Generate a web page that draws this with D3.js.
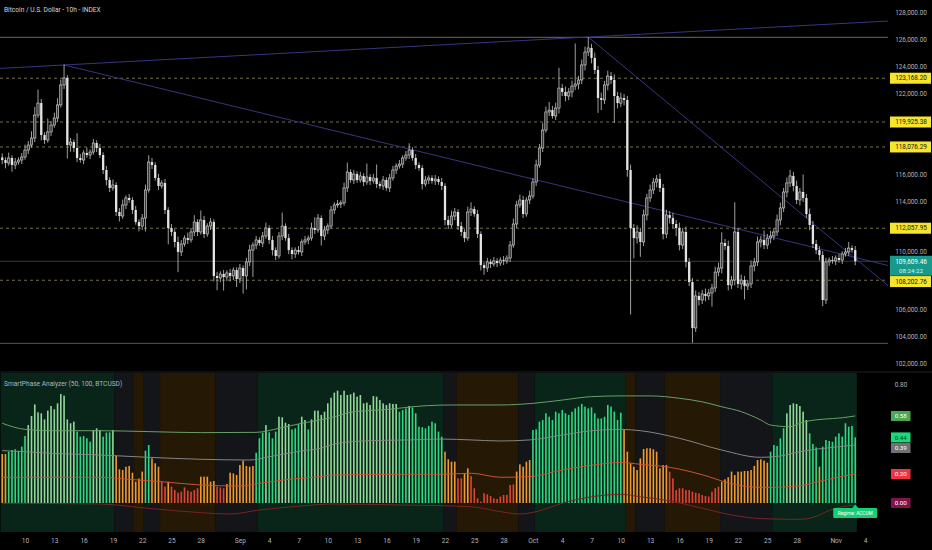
<!DOCTYPE html>
<html><head><meta charset="utf-8">
<script src="https://cdn.jsdelivr.net/npm/d3@7"></script>
<style>body{margin:0;background:#000;overflow:hidden}svg{display:block}</style>
</head><body><svg id="c" width="932" height="550"></svg>
<script>
// ---------- DATA ----------
const title = "Bitcoin / U.S. Dollar - 10h - INDEX";
const indicatorName = "SmartPhase Analyzer (50, 100, BTCUSD)";
const barStartUTC = Date.UTC(2025, 7, 7, 16);   // first bar
const barHours = 8;
const firstOpenK = 117.30;
// close prices (thousands USD)
const closeK = [
117.11,116.89,117.26,116.74,116.96,117.11,117.33,117.85,118.22,118.74,
120.44,121.33,118.96,118.59,119.19,119.70,120.22,121.19,122.67,123.19,
118.22,118.44,118.00,117.26,117.11,117.63,117.48,117.70,118.37,118.00,
117.48,116.37,115.63,115.04,115.26,113.26,112.96,113.78,114.30,114.15,
113.41,112.52,112.22,112.81,114.89,116.96,116.74,115.78,115.19,115.41,
113.41,112.07,111.78,111.04,110.30,110.89,111.33,111.19,111.78,112.52,
111.78,112.67,111.63,112.22,112.52,108.52,108.37,108.67,108.44,108.74,
108.52,108.96,108.30,109.11,108.52,109.56,110.44,110.81,111.19,110.96,
111.48,112.07,111.19,110.44,110.00,111.48,112.22,111.33,110.44,110.15,
110.44,110.30,111.04,111.19,111.33,112.07,111.93,112.81,111.48,111.93,
112.22,113.41,113.78,113.85,113.93,115.04,116.22,115.63,116.07,115.63,
115.93,115.48,115.85,115.56,115.78,115.33,115.19,115.63,115.04,115.78,
116.37,116.67,116.81,117.26,117.48,117.85,117.26,116.74,116.52,115.33,
115.63,115.78,115.56,115.70,115.48,115.19,112.67,112.30,112.96,113.26,
112.22,111.78,111.33,113.26,113.48,113.11,111.63,109.33,109.11,109.56,
109.41,109.63,109.48,109.70,109.63,109.85,110.81,112.37,113.78,114.15,
113.11,114.15,114.44,115.48,116.74,118.00,119.33,120.67,120.81,120.37,
120.96,122.44,122.15,121.85,122.15,122.59,122.74,123.04,124.15,125.11,
125.41,124.67,123.78,121.70,121.56,122.67,123.33,123.04,121.85,121.33,
121.70,121.56,116.37,112.07,111.33,111.78,111.04,113.04,114.30,114.89,
115.48,115.70,115.04,111.63,113.04,112.81,112.37,112.07,110.81,111.78,
109.56,108.07,104.67,107.04,106.74,107.19,107.04,107.26,107.63,108.81,
109.11,110.96,110.74,107.85,108.22,111.78,107.93,108.22,107.78,107.93,
109.26,109.56,111.04,111.19,110.81,111.33,111.48,111.78,112.67,113.56,
114.74,115.41,115.93,115.19,114.15,114.74,114.30,113.11,112.30,110.89,
110.44,110.07,106.74,109.56,109.70,109.63,109.85,109.70,110.15,110.30,110.59,110.44,109.61];
// upper wick above body (thousands)
const upperWickK = [
.3,.2,.4,.2,.3,.2,.3,.4,.3,.5, .6,1.0,.3,.2,1.0,.3,.4,.5,.4,1.0,
.2,.3,.2,1.1,.3,.2,.4,.2,.3,.2, .3,.2,.3,.2,.4,.2,.3,.4,.2,.3,
.2,.3,.2,.3,.4,.5,.3,.2,.3,.2, .3,.2,.3,.2,.4,.3,.2,.4,.3,.5,
.2,.7,.3,.2,.3,.2,.3,.2,.3,.2, .3,.2,.2,.3,.2,.3,.4,.2,.3,.2,
.3,.4,.2,.3,.2,.3,1.0,.2,.3,.2, .2,.3,.2,.3,.2,.4,.8,.3,.2,.3,
.2,.3,.2,.3,.2,.4,.7,.2,.3,.2, .3,.2,1.0,.2,.3,1.0,.2,.3,.2,.3,
.3,.2,.3,.2,.3,.5,.2,.3,.2,.2, .3,.2,.2,.3,.2,.3,.2,.3,.4,.3,
.2,.3,.2,.4,.5,.2,.3,.2,.2,.3, .2,.3,.2,.2,.3,.2,.3,.4,.3,.4,
.3,.2,.4,.3,.4,.3,.5,.4,.6,.3, .4,1.5,.3,.4,.3,.4,3.0,.3,.4,.4,
.8,.3,.4,.3,.4,.3,.4,.3,.4,.3, .4,.3,.3,.4,.3,.5,.3,.4,.3,.4,
.3,.3,.4,.3,.4,.3,.4,.3,.4,.3, .4,.3,.3,.4,.3,.3,.4,.3,.3,.4,
.4,.8,.3,.4,.3,2.2,.3,.4,.3,.3, .4,.3,.4,.3,.7,.3,.4,.3,.4,.4,
.3,.4,.45,.3,.4,.3,1.3,.3,.4,.3, .3,.3,.3,.3,.2,.3,.2,.3,.2,.3,.45,.2,.3];
// lower wick below body (thousands)
const lowerWickK = [
.3,.4,.2,.5,.3,.2,.3,.2,.3,.2, .3,.2,.4,.3,.2,.3,.2,.3,.2,.3,
1.0,.5,.3,.3,.2,.3,.2,.3,.2,.3, .2,.3,.4,.3,.2,.3,.4,.2,.3,.2,
.3,.2,.4,.3,1.0,.2,.3,.2,.3,.2, .3,1.2,.3,.4,1.5,.3,.2,.3,.2,.3,
.3,.2,.3,.2,.3,.4,.9,.3,1.0,.3, .4,.3,.6,.3,1.3,1.0,.3,2.0,.3,.2,
.3,.2,.3,.4,.3,.2,.3,.2,.3,.4, .3,.2,.3,.2,.3,.2,.3,.2,.7,.3,
.3,.2,.3,.2,.3,.2,.3,.2,.3,.2, .2,.3,.2,.3,.2,.3,.2,.3,.2,.3,
.2,.3,.2,.3,.2,.3,.2,.3,.2,.4, .2,.3,.2,.3,.2,.3,.4,.3,.2,.3,
.3,.3,.3,.2,.3,.2,.3,.4,.5,.3, .3,.2,.3,.2,.3,.2,.3,.2,.3,.2,
.3,.2,.3,.2,.3,.2,.3,.2,.3,.2, .3,.4,.3,.4,.3,.4,.3,.4,.3,.4,
.3,.4,.3,1.1,.75,.3,.4,.3,2.0,.4, .3,.4,.5,6.4,1.5,.4,1.1,.3,.4,.3,
.3,.4,.3,.4,.3,.4,.3,.6,.4,.3, .4,.3,1.1,.3,.4,.3,.4,.3,1.0,.3,
.3,.4,.3,.4,.3,.4,.3,.4,1.0,.3, .3,.4,.3,.4,.3,.3,.4,.3,.3,.4,
.3,.4,.3,.4,.3,.4,.3,.3,.4,.3, .3,.4,.45,.3,.3,.2,.3,.2,.3,.2,.3,.2,.3];
// indicator histogram
const histValues = [
.329,.329,.345,.356,.361,.350,.379,.450,.524,.585,
.663,.610,.603,.562,.621,.652,.630,.670,.733,.722,
.562,.536,.547,.480,.446,.450,.435,.412,.491,.502,
.491,.446,.473,.475,.491,.316,.226,.222,.244,.249,
.204,.143,.164,.211,.352,.390,.300,.267,.244,.143,
.110,.143,.110,.087,.069,.076,.105,.083,.076,.087,
.099,.177,.177,.177,.143,.148,.110,.105,.099,.128,
.204,.199,.188,.255,.285,.249,.244,.249,.338,.435,
.473,.524,.475,.435,.480,.580,.576,.540,.531,.495,
.502,.531,.580,.558,.495,.562,.621,.621,.592,.614,
.670,.708,.742,.755,.726,.755,.726,.731,.742,.715,
.726,.670,.675,.659,.719,.715,.692,.670,.659,.670,
.666,.666,.614,.625,.636,.652,.643,.603,.513,.509,
.502,.518,.547,.536,.480,.446,.345,.294,.278,.278,
.166,.166,.199,.233,.182,.099,.031,.009,.065,.058,
.047,.031,.027,.043,.054,.054,.121,.125,.211,.260,
.244,.278,.289,.491,.495,.547,.558,.603,.580,.558,
.614,.603,.625,.603,.592,.614,.636,.648,.666,.648,
.636,.643,.603,.569,.569,.580,.659,.648,.614,.558,
.607,.491,.345,.267,.244,.222,.300,.363,.368,.368,
.361,.345,.233,.255,.255,.211,.166,.087,.099,.099,
.087,.087,.076,.069,.065,.054,.047,.043,.076,.099,
.110,.143,.159,.173,.211,.188,.211,.211,.215,.215,
.222,.249,.289,.294,.285,.271,.345,.390,.383,.435,
.502,.603,.659,.670,.666,.652,.614,.558,.468,.397,
.374,.244,.379,.424,.417,.412,.446,.468,.446,.536,
.513,.518,.441];
// histogram colour runs (G green, O orange, R red)
const histColorRuns = [["O",2],["G",33],["O",9],["G",2],["O",3],["R",2],["O",1],["R",9],["O",5],["R",3],["O",9],["G",58],["O",4],["R",2],["O",2],["R",14],["O",5],["G",28],["O",14],["R",16],["O",15],["G",15],["O",1],["G",11]];
// regime background [firstBar, lastBar, regime]
const regimes = [[0,34,"accum"],[35,40,"neutral"],[41,43,"dist"],[44,48,"neutral"],[49,65,"dist"],[66,78,"neutral"],[79,135,"accum"],[136,139,"neutral"],[140,158,"dist"],[159,163,"neutral"],[164,191,"accum"],[192,194,"dist"],[195,203,"neutral"],[204,220,"dist"],[221,236,"neutral"],[237,262,"accum"]];
// indicator bands [bar, value]
const upperBand = [[0,.536],[7,.495],[15,.486],[30,.486],[45,.48],[61,.473],[78,.475],[85,.502],[92,.536],[98,.56],[103,.585],[107,.61],[113,.622],[119,.63],[125,.645],[131,.655],[138,.659],[153,.659],[163,.67],[172,.692],[181,.715],[190,.72],[199,.72],[208,.704],[215,.68],[221,.647],[227,.614],[233,.558],[236,.524],[242,.513],[245,.536],[248,.553],[252,.563],[258,.573],[262,.585]];
const midBand = [[0,.352],[7,.345],[15,.334],[30,.323],[45,.307],[61,.294],[76,.289],[82,.311],[92,.35],[98,.368],[102,.397],[113,.419],[125,.424],[135,.43],[144,.424],[153,.417],[162,.424],[172,.457],[181,.486],[190,.495],[196,.486],[208,.435],[221,.356],[233,.307],[239,.316],[245,.345],[255,.374],[262,.39]];
const lowBand = [[0,.173],[15,.173],[30,.173],[39,.159],[49,.143],[61,.121],[73,.114],[79,.132],[88,.159],[98,.178],[101,.188],[122,.193],[135,.193],[144,.2],[153,.173],[162,.177],[172,.222],[184,.262],[190,.273],[196,.26],[205,.24],[215,.19],[224,.13],[230,.108],[236,.105],[245,.115],[250,.14],[256,.17],[262,.195]];
const floorBand = [[0,-.002],[30,-.007],[45,-.036],[61,-.065],[70,-.074],[79,-.047],[92,-.02],[101,-.007],[122,-.013],[144,-.025],[153,-.058],[159,-.074],[164,-.058],[172,-.002],[181,.042],[190,.058],[196,.042],[205,.015],[214,-.03],[224,-.08],[233,-.105],[245,-.11],[250,-.09],[254,-.05],[258,-.025],[262,-.015]];
const zeroLevel = 0;
const regimeLabel = "Regime: ACCUM";
// price levels
const keyLevels = [123168.20, 119925.38, 118076.29, 112057.95, 108202.76];
const athLine = 126200, lowLine = 103530;
const lastPrice = 109609.46, countdown = "08:24:22";
const trendLines = [ // [bar, price] anchors, extend
  {a:[19,124150], b:[180,126220], left:true},
  {a:[19,124150], b:[126,117870], left:false},
  {a:[180,126220], b:[240,114220], left:false}];
const priceTicks = d3.range(102000, 128001, 2000);
const indTicks = [0.80];
const timeTicks = ["2025-08-10","2025-08-13","2025-08-16","2025-08-19","2025-08-22","2025-08-25","2025-08-28","2025-09-01","2025-09-04","2025-09-07","2025-09-10","2025-09-13","2025-09-16","2025-09-19","2025-09-22","2025-09-25","2025-09-28","2025-10-01","2025-10-04","2025-10-07","2025-10-10","2025-10-13","2025-10-16","2025-10-19","2025-10-22","2025-10-25","2025-10-28","2025-11-01","2025-11-04"];

// ---------- SCALES ----------
const FONT = "Roboto, 'DejaVu Sans', sans-serif";
const svg = d3.select("#c");
const N = closeK.length;
const dates = d3.range(N).map(j => new Date(barStartUTC + j * barHours * 3600e3));
const x = d3.scaleUtc().domain([new Date("2025-08-10T00:00Z"), new Date("2025-11-04T00:00Z")]).range([25, 865]);
const y = d3.scaleLinear().domain([102000, 128000]).range([364, 13]);
const yi = d3.scaleLinear().domain([0, 0.8]).range([503, 384]);
const paneR = 888, indTop = 373, indBot = 532;
const step = x(dates[1]) - x(dates[0]);

svg.append("rect").attr("width", 932).attr("height", 550).attr("fill", "#000");

// ---------- MAIN PANE ----------
const main = svg.append("g");
main.selectAll(".lvl").data(keyLevels).join("line")
  .attr("x1", 0).attr("x2", paneR).attr("y1", d => y(d)).attr("y2", d => y(d))
  .attr("stroke", "#857a55").attr("stroke-dasharray", "3,3").attr("stroke-width", 0.9);
[[athLine, "#6e6a62"], [lowLine, "#555"], [lastPrice, "#27433f"]].forEach(([p, c]) => {
  main.append("line").attr("x1", 0).attr("x2", paneR).attr("y1", y(p)).attr("y2", y(p)).attr("stroke", c).attr("stroke-width", 1);
});
trendLines.forEach(t => {
  const x1 = x(dates[t.a[0]]), y1 = y(t.a[1]), x2 = x(dates[t.b[0]]), y2 = y(t.b[1]);
  const s = (y2 - y1) / (x2 - x1);
  const xs = t.left ? 0 : x1;
  main.append("line").attr("x1", xs).attr("y1", y1 + s * (xs - x1))
    .attr("x2", paneR).attr("y2", y1 + s * (paneR - x1))
    .attr("stroke", "#363680").attr("stroke-width", 1);
});
const candles = closeK.map((c, j) => {
  const o = j ? closeK[j - 1] : firstOpenK;
  return {d: dates[j], o: o * 1000, c: c * 1000,
          h: (Math.max(o, c) + upperWickK[j]) * 1000, l: (Math.min(o, c) - lowerWickK[j]) * 1000};
});
const cg = main.append("g");
cg.selectAll(".wick").data(candles).join("line")
  .attr("x1", d => x(d.d)).attr("x2", d => x(d.d)).attr("y1", d => y(d.h)).attr("y2", d => y(d.l))
  .attr("stroke", "#c8c8c8").attr("stroke-width", 0.8);
cg.selectAll(".body").data(candles).join("rect")
  .attr("x", d => x(d.d) - 1.15).attr("width", 2.3)
  .attr("y", d => y(Math.max(d.o, d.c))).attr("height", d => Math.max(0.8, Math.abs(y(d.o) - y(d.c))))
  .attr("fill", d => d.c >= d.o ? "#3a3a3a" : "#e4e4e4")
  .attr("stroke", d => d.c >= d.o ? "#dcdcdc" : "none").attr("stroke-width", 0.6);

main.append("text").attr("x", 4).attr("y", 10).attr("dy", "0.35em").text(title)
  .attr("fill", "#d1d4dc").attr("font-size", 6.6).attr("font-family", FONT);

// price axis
const curTop = y(lastPrice) - 5.5, curBot = curTop + 20;
const pAxis = svg.append("g").attr("transform", "translate(911,0)")
  .call(d3.axisRight(y).tickValues(priceTicks).tickSize(0).tickPadding(0).tickFormat(d3.format(",.2f")));
pAxis.select(".domain").remove();
pAxis.selectAll(".tick").attr("transform", d => {
  let ty = y(d);
  if (ty + 3.3 > curTop && ty - 3.3 < curBot) ty = curTop - 3.4; // sits just above the live price box
  return `translate(0,${ty})`;
});
pAxis.selectAll("text").attr("text-anchor", "middle").attr("fill", "#b2b5be").attr("font-size", 6.4).attr("font-family", FONT)
  .style("display", d => keyLevels.some(k => Math.abs(y(k) - y(d)) < 7) ? "none" : null);

// current price box + key level boxes (with simple collision push)
const pg = svg.append("g");
pg.append("rect").attr("x", 890).attr("y", curTop).attr("width", 42).attr("height", 20).attr("fill", "#179a8b");
pg.append("text").attr("x", 911).attr("y", y(lastPrice)).attr("dy", "0.35em").attr("text-anchor", "middle")
  .text(d3.format(",.2f")(lastPrice)).attr("fill", "#fff").attr("font-size", 6.4).attr("font-family", FONT);
pg.append("text").attr("x", 911).attr("y", y(lastPrice) + 9.5).attr("dy", "0.35em").attr("text-anchor", "middle")
  .text(countdown).attr("fill", "#d8f2ee").attr("font-size", 6.2).attr("font-family", FONT);
keyLevels.forEach(k => {
  let cy = y(k);
  if (cy - 5.5 < curBot && cy + 5.5 > curTop) cy = curBot + 5.8;
  pg.append("rect").attr("x", 890).attr("y", cy - 5.5).attr("width", 41).attr("height", 11).attr("fill", "#f7e52c");
  pg.append("text").attr("x", 911).attr("y", cy).attr("dy", "0.35em").attr("text-anchor", "middle")
    .text(d3.format(",.2f")(k)).attr("fill", "#111").attr("font-size", 6.4).attr("font-family", FONT);
});

// ---------- INDICATOR PANE ----------
svg.append("line").attr("x1", 0).attr("x2", 932).attr("y1", 372).attr("y2", 372).attr("stroke", "#1e2126");
const regimeFill = {accum: "#092418", dist: "#251906", neutral: "#131519"};
const ig = svg.append("g");
ig.selectAll(".band").data(regimes).join("rect")
  .attr("x", d => Math.max(0, x(dates[d[0]]) - step / 2)).attr("y", indTop)
  .attr("width", d => x(dates[d[1]]) + step / 2 - Math.max(0, x(dates[d[0]]) - step / 2)).attr("height", indBot - indTop)
  .attr("fill", d => regimeFill[d[2]]);

const histCat = histColorRuns.flatMap(([c, n]) => Array(n).fill(c));
const interp = (arr, j) => {
  for (let k = 0; k < arr.length - 1; k++) {
    if (j >= arr[k][0] && j <= arr[k + 1][0]) {
      const t = (j - arr[k][0]) / (arr[k + 1][0] - arr[k][0]);
      return arr[k][1] + t * (arr[k + 1][1] - arr[k][1]);
    }
  }
  return arr[arr.length - 1][1];
};
const barColor = (v, j) => {
  const c = histCat[j];
  if (c === "O") return "#f29b2c";
  if (c === "R") return "#df4536";
  return v > interp(upperBand, j) ? "#93d99b" : "#2fd882";
};
ig.selectAll(".hb").data(histValues).join("rect")
  .attr("x", (v, j) => x(dates[j]) - 0.8).attr("width", 1.6)
  .attr("y", v => yi(v)).attr("height", v => yi(0) - yi(v))
  .attr("fill", (v, j) => barColor(v, j));

const line = d3.line().x(d => x(dates[d[0]])).y(d => yi(d[1])).curve(d3.curveMonotoneX);
[[upperBand, "#66a068"], [midBand, "#858585"], [lowBand, "#cb5034"], [floorBand, "#772424"]].forEach(([arr, c]) => {
  ig.append("path").attr("d", line(arr)).attr("fill", "none").attr("stroke", c).attr("stroke-width", 1);
});

ig.append("text").attr("x", 4).attr("y", 384).attr("dy", "0.35em").text(indicatorName)
  .attr("fill", "#b2b5be").attr("font-size", 6.6).attr("font-family", FONT);

// regime label
const lastX = x(dates[N - 1]);
ig.append("path").attr("d", `M${lastX - 3},508 L${lastX},504.5 L${lastX + 3},508 Z`).attr("fill", "#14cf78");
ig.append("rect").attr("x", lastX - 22).attr("y", 508).attr("width", 44).attr("height", 10).attr("rx", 1.2).attr("fill", "#14cf78");
ig.append("text").attr("x", lastX).attr("y", 513).attr("dy", "0.35em").attr("text-anchor", "middle").text(regimeLabel)
  .attr("fill", "#fff").attr("font-size", 4.8).attr("font-family", FONT);

// indicator axis
const iAxis = svg.append("g").attr("transform", "translate(901,0)")
  .call(d3.axisRight(yi).tickValues(indTicks).tickSize(0).tickPadding(0).tickFormat(d3.format(".2f")));
iAxis.select(".domain").remove();
iAxis.selectAll("text").attr("text-anchor", "middle").attr("fill", "#b2b5be").attr("font-size", 6.4).attr("font-family", FONT);
const lastOf = a => a[a.length - 1][1];
const indLabels = [
  {v: lastOf(upperBand), bg: "#4aa852", fg: "#fff"},
  {v: histValues[N - 1], bg: "#19d97a", fg: "#0a3b20"},
  {v: lastOf(midBand), bg: "#6f7176", fg: "#fff"},
  {v: lastOf(lowBand), bg: "#ee3444", fg: "#fff"},
  {v: zeroLevel, bg: "#84124a", fg: "#fff"}].sort((a, b) => yi(a.v) - yi(b.v));
let prev = -1e9;
indLabels.forEach(l => {
  let cy = Math.max(yi(l.v), prev + 10.6); prev = cy;
  ig.append("rect").attr("x", 891).attr("y", cy - 5).attr("width", 19.5).attr("height", 10).attr("fill", l.bg);
  ig.append("text").attr("x", 900.7).attr("y", cy).attr("dy", "0.35em").attr("text-anchor", "middle")
    .text(d3.format(".2f")(l.v)).attr("fill", l.fg).attr("font-size", 6.2).attr("font-family", FONT);
});

// time axis
const tAxis = svg.append("g").attr("transform", "translate(0,541)")
  .call(d3.axisBottom(x).tickValues(timeTicks.map(s => new Date(s + "T00:00Z"))).tickSize(0).tickPadding(0)
    .tickFormat(d => d.getUTCDate() === 1 ? d3.utcFormat("%b")(d) : d3.utcFormat("%-d")(d)));
tAxis.select(".domain").remove();
tAxis.selectAll("text").attr("dy", "0.35em").attr("fill", "#b2b5be").attr("font-size", 6.6).attr("font-family", FONT);
</script></body></html>
